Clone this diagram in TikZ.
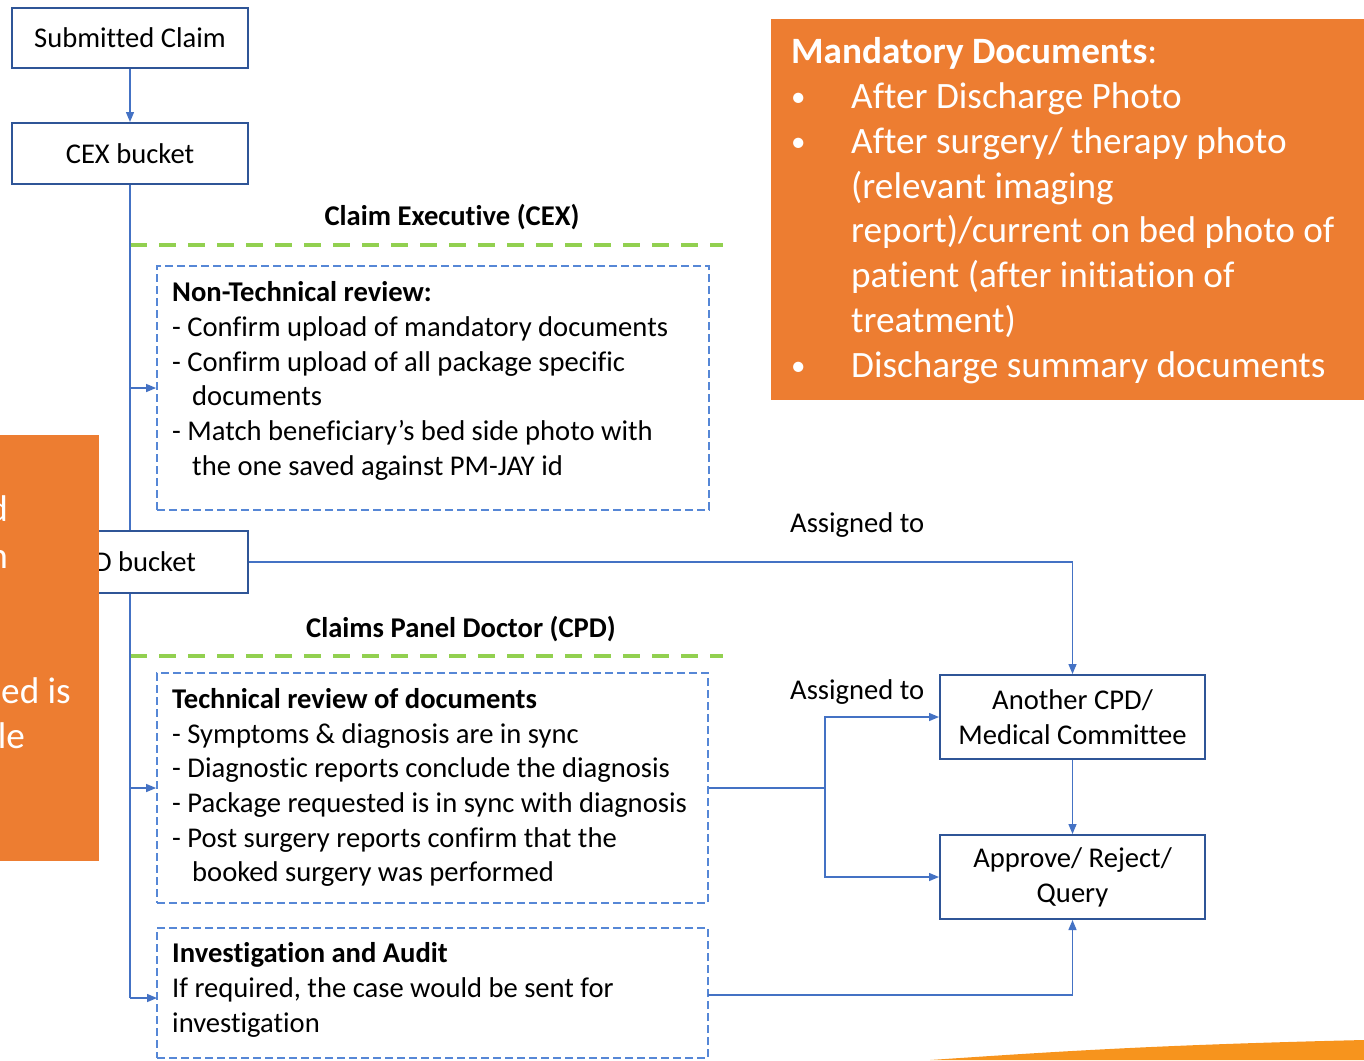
\documentclass[tikz,border=0pt]{standalone}
\usepackage{fontspec}
\setmainfont[Ligatures=NoCommon]{Carlito}
\usetikzlibrary{arrows.meta,calc}
\definecolor{boxblue}{RGB}{47,85,151}
\definecolor{lineblue}{RGB}{68,114,196}
\definecolor{dashblue}{RGB}{86,135,214}
\definecolor{dgreen}{RGB}{146,208,80}
\definecolor{orng}{RGB}{237,125,49}
\definecolor{swoosh}{RGB}{247,148,29}
\newcommand\bodyfont{\fontsize{28.6}{34.8}\selectfont}
\newcommand\bigfont{\fontsize{37.2}{44.7}\selectfont}
\newcommand\bulfont{\fontsize{29}{44.7}\selectfont}
\begin{document}
\begin{tikzpicture}[x=1pt,y=1pt,
  solidbox/.style={draw=boxblue, line width=2pt, fill=white, inner sep=0pt, font=\bodyfont, align=center},
  dbox/.style={draw=dashblue, line width=1.8pt, dash pattern=on 8pt off 4pt, inner sep=0pt},
  conn/.style={draw=lineblue, line width=1.4pt},
  arr/.style={conn, -{Triangle[length=10pt,width=8pt]}},
  gline/.style={draw=dgreen, line width=4pt, dash pattern=on 17pt off 12pt},
  txt/.style={font=\bodyfont, inner sep=0pt, anchor=base west},
  head/.style={font=\bodyfont\bfseries, inner sep=0pt, anchor=base},
  wtxt/.style={font=\bigfont, text=white, inner sep=0pt, anchor=base west},
  bul/.style={font=\bulfont, text=white, inner sep=0pt, anchor=base west},
  ltxt/.style={font=\bigfont, text=white, inner sep=0pt, anchor=base east}]
\useasboundingbox (0,0) rectangle (1364,-1060);
\clip (0,0) rectangle (1364,-1060);

% boxes
\node[solidbox, minimum width=236, minimum height=60] (Sub) at (130,-38) {Submitted Claim};
\node[solidbox, minimum width=236, minimum height=61] (CEX) at (130,-153.5) {CEX bucket};
\node[solidbox, minimum width=236, minimum height=62] (CPD) at (130,-562) {CPD bucket};
\node[solidbox, minimum width=265, minimum height=84] (Another) at (1072.5,-717) {Another CPD/\\Medical Committee};
\node[solidbox, minimum width=265, minimum height=84] (Approve) at (1072.5,-877) {Approve/ Reject/\\Query};

\node[dbox, minimum width=552, minimum height=244] (NonTech) at (433,-388) {};
\node[dbox, minimum width=551, minimum height=230] (Tech) at (432.5,-788) {};
\node[dbox, minimum width=551, minimum height=130] (Invest) at (432.5,-993) {};

% headings and green lines
\node[head] (hCEX) at (452,-225) {Claim Executive (CEX)};
\node[head] (hCPD) at (461,-637) {Claims Panel Doctor (CPD)};
\coordinate (g1a) at (130,-245); \coordinate (g1b) at (723,-245);
\coordinate (g2a) at (130,-656); \coordinate (g2b) at (723,-656);
\draw[gline] (g1a) -- (g1b);
\draw[gline] (g2a) -- (g2b);

% non-technical text
\node[txt] (n1) at (172,-301) {\bfseries Non-Technical review:};
\node[txt] (n2) at (172,-336) {- Confirm upload of mandatory documents};
\node[txt] (n3) at (172,-371) {- Confirm upload of all package specific};
\node[txt] (n4) at (192,-405) {documents};
\node[txt] (n5) at (172,-440) {- Match beneficiary’s bed side photo with};
\node[txt] (n6) at (192,-475) {the one saved against PM-JAY id};

% technical text
\node[txt] (t1) at (172,-708) {\bfseries Technical review of documents};
\node[txt] (t2) at (172,-743) {- Symptoms \& diagnosis are in sync};
\node[txt] (t3) at (172,-777) {- Diagnostic reports conclude the diagnosis};
\node[txt] (t4) at (172,-812) {- Package requested is in sync with diagnosis};
\node[txt] (t5) at (172,-847) {- Post surgery reports confirm that the};
\node[txt] (t6) at (192,-881) {booked surgery was performed};

% investigation text
\node[txt] (i1) at (172,-962) {\bfseries Investigation and Audit};
\node[txt] (i2) at (172,-997) {If required, the case would be sent for};
\node[txt] (i3) at (172,-1032) {investigation};

% assigned labels
\node[txt] (as1) at (790,-532) {Assigned to};
\node[txt] (as2) at (790,-699) {Assigned to};

% connectors
\coordinate (invIn) at (157,-998);
\coordinate (invOut) at (708,-995);
\coordinate (split) at (825,-788);
\draw[arr] (Sub) -- (CEX);
\draw[conn] (CEX.south) -- (CPD.north);
\draw[arr] (CEX.south |- NonTech.west) -- (NonTech.west);
\draw[conn] (CPD.south) -- (CPD.south |- invIn);
\draw[arr] (CPD.south |- Tech.west) -- (Tech.west);
\draw[arr] (CPD.south |- invIn) -- (invIn);
\draw[arr] (CPD.east) -| (Another.north);
\draw[conn] (Tech.east) -- (split);
\draw[arr] (split) |- (Another.west);
\draw[arr] (split) |- (Approve.west);
\draw[arr] (Another) -- (Approve);
\draw[arr] (invOut) -| (Approve.south);

% mandatory documents box
\fill[orng] (771,-19) rectangle (1364,-400);
\node[wtxt] (m0) at (791,-63) {\textbf{Mandatory Documents}:};
\node[bul] (b1) at (791,-106) {•};
\node[bul] (b2) at (791,-151) {•};
\node[bul] (b3) at (791,-375) {•};
\node[wtxt] (m1) at (851,-108) {After Discharge Photo};
\node[wtxt] (m2) at (851,-153) {After surgery/ therapy photo};
\node[wtxt] (m3) at (851,-198) {(relevant imaging};
\node[wtxt] (m4) at (851,-242) {report)/current on bed photo of};
\node[wtxt] (m5) at (851,-287) {patient (after initiation of};
\node[wtxt] (m6) at (851,-332) {treatment)};
\node[wtxt] (m7) at (851,-377) {Discharge summary documents};

% left orange box (over CPD bucket)
\fill[orng] (-50,-435) rectangle (99,-861);
\node[ltxt] (l1) at (8,-521) {d};
\node[ltxt] (l2) at (8,-568) {n};
\node[ltxt] (l3) at (71,-703) {ed is};
\node[ltxt] (l4) at (25,-748) {le};

% bottom-right swoosh
\fill[swoosh] (930,-1060) .. controls (1050,-1052) and (1150,-1045) .. (1364,-1040) -- (1364,-1060) -- cycle;
\end{tikzpicture}
\end{document}
